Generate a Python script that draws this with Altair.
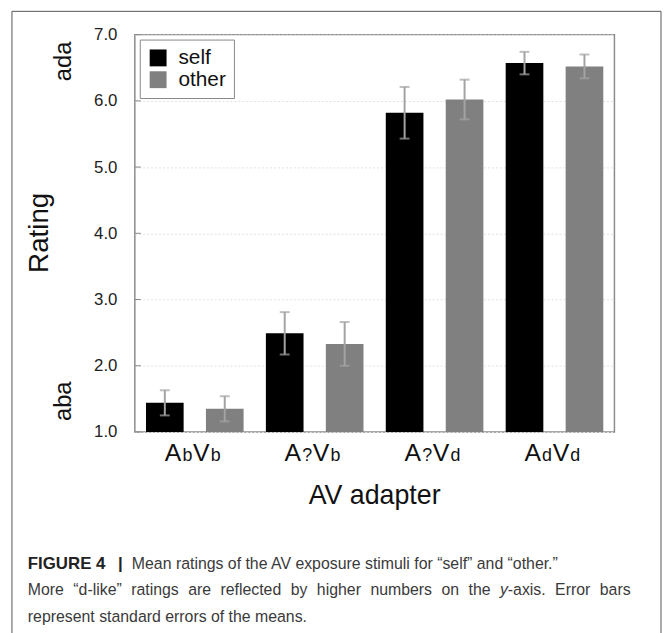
import altair as alt
import pandas as pd

# ---------------- data ----------------
groups = ["AbVb", "A?Vb", "A?Vd", "AdVd"]
series = ["self", "other"]
self_mean = [1.44, 2.49, 5.82, 6.57]
self_se = [0.19, 0.32, 0.39, 0.17]
other_mean = [1.35, 2.33, 6.02, 6.52]
other_se = [0.19, 0.33, 0.30, 0.18]

# x tick labels split into capital / subscript pieces
cap1 = ["A", "A", "A", "A"]
sub1 = ["b", "?", "?", "d"]
cap2 = ["V", "V", "V", "V"]
sub2 = ["b", "b", "d", "d"]

y_ticks = [1, 2, 3, 4, 5, 6, 7]
series_colors = ["#000000", "#808080"]

y_title = "Rating"
x_title = "AV adapter"
top_anchor = "ada"
bottom_anchor = "aba"
cap_bold = "FIGURE 4"
cap_bar = "|"
cap_line1 = "Mean ratings of the AV exposure stimuli for \u201cself\u201d and \u201cother.\u201d"
# justified second caption line, word by word
cap_line2_words = ["More", "\u201cd-like\u201d", "ratings", "are", "reflected", "by", "higher",
                   "numbers", "on", "the", "y", "-axis.", "Error", "bars"]
cap_line3 = "represent standard errors of the means."

FONT = "Liberation Sans"
W, H = 484, 401

rows = []
for i, g in enumerate(groups):
    rows.append(dict(group=g, series="self", mean=self_mean[i],
                     lo=self_mean[i] - self_se[i], hi=self_mean[i] + self_se[i]))
    rows.append(dict(group=g, series="other", mean=other_mean[i],
                     lo=other_mean[i] - other_se[i], hi=other_mean[i] + other_se[i]))
df = pd.DataFrame(rows)
lab_df = pd.DataFrame(dict(group=groups, c1=cap1, s1=sub1, c2=cap2, s2=sub2))

x_enc = alt.X("group:N", sort=groups, scale=alt.Scale(domain=groups, paddingInner=0, paddingOuter=0), axis=None)
xoff = alt.XOffset("series:N", sort=series,
                   scale=alt.Scale(domain=series, paddingInner=0.372, paddingOuter=0.186))
y_scale = alt.Scale(domain=[1, 7], nice=False, zero=False)

bars = alt.Chart(df).mark_bar().encode(
    x=x_enc,
    xOffset=xoff,
    y=alt.Y("mean:Q", scale=y_scale, title=None,
            axis=alt.Axis(values=y_ticks, format=".1f", labelFontSize=17, labelFont=FONT,
                          labelColor="#222222", labelPadding=18, ticks=False, domain=False,
                          grid=True, gridColor="#e2e2e2", gridDash=[2, 2], gridWidth=1)),
    y2=alt.datum(1),
    color=alt.Color("series:N", scale=alt.Scale(domain=series, range=series_colors),
                    legend=alt.Legend(title=None, orient="none", legendX=5, legendY=5,
                                      direction="vertical", symbolType="square", symbolSize=290,
                                      symbolStrokeWidth=0, symbolOpacity=1,
                                      labelFontSize=21, labelFont=FONT, labelColor="#111111",
                                      labelOffset=10, strokeColor="#888888", fillColor="white",
                                      padding=8, rowPadding=0)),
)

err = alt.Chart(df).mark_rule(color="#a3a3a3", strokeWidth=2).encode(
    x=x_enc, xOffset=xoff, y=alt.Y("lo:Q", title=None), y2="hi:Q")
cap_lo = alt.Chart(df).mark_tick(color="#a3a3a3", thickness=2, size=10).encode(
    x=x_enc, xOffset=xoff, y=alt.Y("lo:Q", title=None))
cap_hi = alt.Chart(df).mark_tick(color="#a3a3a3", thickness=2, size=10).encode(
    x=x_enc, xOffset=xoff, y=alt.Y("hi:Q", title=None))

ticks_in = alt.Chart(pd.DataFrame({"v": y_ticks})).mark_rule(color="#888888", strokeWidth=1).encode(
    y=alt.Y("v:Q", title=None), x=alt.value(0), x2=alt.value(6))

def lab(field, size, dx):
    return alt.Chart(lab_df).mark_text(fontSize=size, dx=dx, baseline="alphabetic", align="center",
                                       font=FONT, color="#111111").encode(
        x=x_enc, y=alt.value(430), text=f"{field}:N")

labels = [lab("c1", 25, -22), lab("s1", 18, -7.5), lab("c2", 25, 6.5), lab("s2", 18, 21)]

def txt(s, x, y, size, angle=0, align="center", baseline="middle", weight="normal",
        style="normal", color="#111111"):
    kw = dict(fontSize=size, align=align, baseline=baseline, font=FONT, fontWeight=weight,
              fontStyle=style, color=color)
    if angle:
        kw["angle"] = angle
    return alt.Chart(pd.DataFrame({"t": [s]})).mark_text(**kw).encode(
        x=alt.value(x), y=alt.value(y), text="t:N")

CAP = "#3a3a3a"
L1, L2, L3 = 539, 566, 593
line2_x = [-108, -62.1, -3.7, 53.8, 86.4, 157.3, 183.7, 237.7, 309.4, 336.7, 368.4, 376.4, 424.1, 469.2]

texts = [
    txt(y_title, -96, 200, 28, angle=270),
    txt(top_anchor, -71, 27, 24, angle=270),
    txt(bottom_anchor, -71, 370, 24, angle=270),
    txt(x_title, 242, 466, 27),
    txt(cap_bold, -108, L1, 17, align="left", baseline="alphabetic", weight="bold", color="#222222"),
    txt(cap_bar, -17, L1, 17, align="left", baseline="alphabetic", weight="bold", color="#222222"),
    txt(cap_line1, -3, L1, 16, align="left", baseline="alphabetic", color=CAP),
    txt(cap_line3, -108, L3, 16, align="left", baseline="alphabetic", color=CAP),
]
for w, xx in zip(cap_line2_words, line2_x):
    texts.append(txt(w, xx, L2, 16, align="left", baseline="alphabetic",
                     style="italic" if w == "y" else "normal", color=CAP))

frame = alt.Chart(pd.DataFrame({"a": [0]})).mark_rect(
    fillOpacity=0, stroke="#555555", strokeWidth=1).encode(
    x=alt.value(-124), x2=alt.value(531), y=alt.value(-23.5), y2=alt.value(700))

chart = alt.layer(bars, err, cap_lo, cap_hi, ticks_in, *labels, *texts, frame).properties(
    width=W, height=H,
    padding={"left": 128, "top": 24, "right": 48, "bottom": 200},
    autosize=alt.AutoSizeParams(type="none"),
).configure_view(stroke="#8c8c8c", strokeWidth=1.5)

chart.save("out.html", embed_options={"renderer": "svg", "actions": False})
